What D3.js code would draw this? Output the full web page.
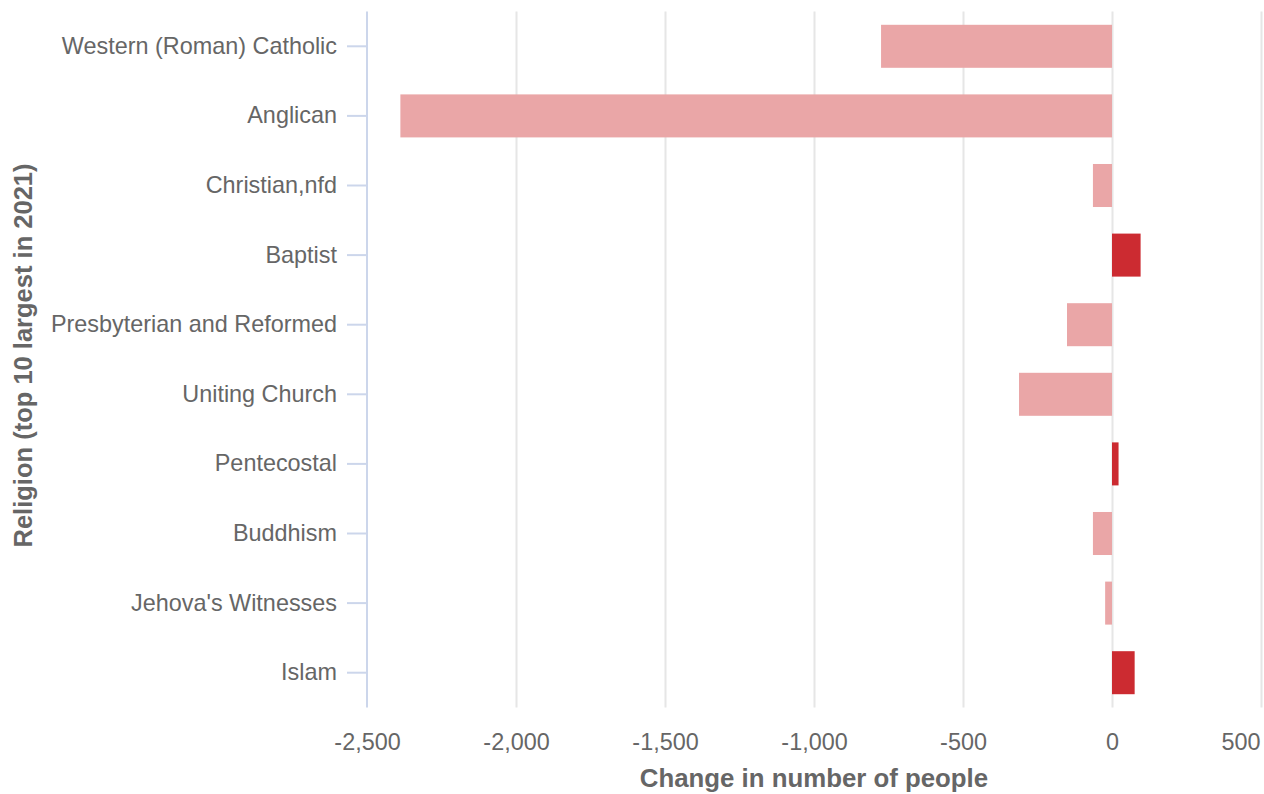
<!DOCTYPE html>
<html>
<head>
<meta charset="utf-8">
<script src="https://cdn.jsdelivr.net/npm/d3@7"></script>
<style>
  html, body { margin: 0; padding: 0; background: #fff; }
  svg { display: block; font-family: "Liberation Sans", Arial, sans-serif; }
</style>
</head>
<body>
<svg id="chart" width="1264" height="794"></svg>
<script>
const categories = ["Western (Roman) Catholic", "Anglican", "Christian,nfd", "Baptist",
  "Presbyterian and Reformed", "Uniting Church", "Pentecostal", "Buddhism",
  "Jehova's Witnesses", "Islam"];
const changes = [-775, -2388, -64, 96, -151, -312, 22, -64, -23, 76];
const xTicks = [-2500, -2000, -1500, -1000, -500, 0, 500];
const xTitle = "Change in number of people";
const yTitle = "Religion (top 10 largest in 2021)";

const svg = d3.select("#chart");
const plotLeft = 367, plotRight = 1261, plotTop = 11.5, plotBottom = 707.5;
const labelSize = 23.4, titleSize = 25.8;

const x = d3.scaleLinear().domain([-2500, 500]).range([plotLeft, plotRight]);
const y = d3.scaleBand().domain(categories).range([plotTop, plotBottom]).paddingInner(0.382).paddingOuter(0.191);

// gridlines
svg.append("g").selectAll("line").data(xTicks.slice(1)).join("line")
  .attr("x1", d => Math.round(x(d)) + 0.5).attr("x2", d => Math.round(x(d)) + 0.5)
  .attr("y1", plotTop).attr("y2", plotBottom)
  .attr("stroke", "#e6e6e6").attr("stroke-width", 2);

// bars
svg.append("g").selectAll("rect").data(categories).join("rect")
  .attr("x", (d, i) => x(Math.min(0, changes[i])))
  .attr("width", (d, i) => Math.abs(x(changes[i]) - x(0)))
  .attr("y", d => y(d))
  .attr("height", y.bandwidth())
  .attr("fill", (d, i) => changes[i] < 0 ? "#eaa6a7" : "#cc2b31");

// y axis
const yAxis = svg.append("g").attr("transform", `translate(${plotLeft},0)`)
  .call(d3.axisLeft(y).tickSize(20).tickPadding(10));
yAxis.select(".domain").attr("stroke", "#ccd6eb").attr("stroke-width", 2).attr("d", `M0,${plotTop}V${plotBottom}`);
yAxis.selectAll(".tick line").attr("stroke", "#ccd6eb").attr("stroke-width", 2);
yAxis.selectAll(".tick text").attr("fill", "#666666").attr("font-size", labelSize)
  .attr("font-family", "Liberation Sans, Arial, sans-serif");

// x axis (labels only)
const xAxis = svg.append("g").attr("transform", `translate(0,${plotBottom})`)
  .call(d3.axisBottom(x).tickValues(xTicks).tickSize(0).tickPadding(26));
xAxis.select(".domain").remove();
xAxis.selectAll(".tick text").attr("fill", "#666666").attr("font-size", labelSize)
  .attr("font-family", "Liberation Sans, Arial, sans-serif")
  .text(d => d3.format(",")(d).replace("−", "-"))
  .attr("text-anchor", d => d === xTicks[xTicks.length - 1] ? "end" : "middle")
  .attr("x", d => d === xTicks[xTicks.length - 1] ? 1260 - x(d) : 0);

// titles
svg.append("text").attr("x", (plotLeft + plotRight) / 2).attr("y", 787)
  .attr("text-anchor", "middle").attr("font-size", titleSize).attr("font-weight", "bold")
  .attr("fill", "#666666").text(xTitle);
svg.append("text").attr("transform", `translate(32,${(plotTop + plotBottom) / 2 - 4}) rotate(-90)`)
  .attr("text-anchor", "middle").attr("font-size", 25.5).attr("font-weight", "bold")
  .attr("fill", "#666666").text(yTitle);
</script>
</body>
</html>
